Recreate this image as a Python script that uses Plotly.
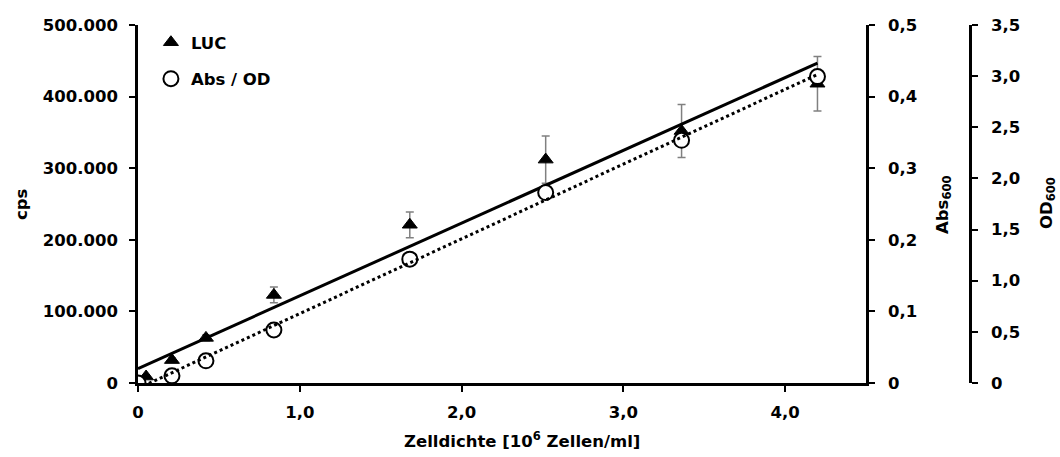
import numpy as np
import plotly.graph_objects as go

# Data
luc_x = [0.0, 0.05, 0.21, 0.42, 0.84, 1.68, 2.52, 3.36, 4.2]
luc_y = [0, 9000, 32000, 63000, 123000, 221000, 312000, 352000, 418000]
luc_err = [0, 2000, 3000, 4000, 11000, 18000, 33000, 37000, 38000]

abs_x = [0.0, 0.21, 0.42, 0.84, 1.68, 2.52, 3.36, 4.2]
abs_y = [0.0, 0.010, 0.031, 0.074, 0.173, 0.266, 0.339, 0.428]

x_ticks = [0, 1, 2, 3, 4]
x_ticktext = ["0", "1,0", "2,0", "3,0", "4,0"]
cps_ticks = [0, 100000, 200000, 300000, 400000, 500000]
cps_ticktext = ["0", "100.000", "200.000", "300.000", "400.000", "500.000"]
abs_ticks = [0, 0.1, 0.2, 0.3, 0.4, 0.5]
abs_ticktext = ["0", "0,1", "0,2", "0,3", "0,4", "0,5"]
od_ticks = [0, 0.5, 1.0, 1.5, 2.0, 2.5, 3.0, 3.5]
od_ticktext = ["0", "0,5", "1,0", "1,5", "2,0", "2,5", "3,0", "3,5"]

# Linear trendlines (least squares fits of the data)
luc_fit = np.polyfit(luc_x, luc_y, 1)
abs_fit = np.polyfit(abs_x, abs_y, 1)
fit_x = np.array([min(abs_x), max(abs_x)])

FONT = "DejaVu Sans"
FS = 16.5
tfont = dict(family=FONT, size=FS, color="black", weight="bold")

fig = go.Figure()

fig.add_trace(go.Scatter(
    x=luc_x, y=luc_y, mode="markers", name="LUC", legendgroup="a",
    marker=dict(symbol="triangle-up", size=13, color="black",
                line=dict(color="black", width=1)),
    error_y=dict(type="data", array=luc_err, visible=True, color="#808080",
                 thickness=1.5, width=4),
    yaxis="y",
))
fig.add_trace(go.Scatter(
    x=abs_x, y=abs_y, mode="markers", name="Abs / OD", legendgroup="b",
    marker=dict(symbol="circle", size=15, color="white",
                line=dict(color="black", width=2)),
    yaxis="y2",
))
fig.add_trace(go.Scatter(
    x=fit_x, y=np.polyval(luc_fit, fit_x), mode="lines", showlegend=False,
    line=dict(color="black", width=3), yaxis="y",
))
fig.add_trace(go.Scatter(
    x=fit_x, y=np.polyval(abs_fit, fit_x), mode="lines", showlegend=False,
    line=dict(color="black", width=3, dash="dot"), yaxis="y2",
))
fig.add_trace(go.Scatter(x=[None], y=[None], showlegend=False, yaxis="y3",
                         hoverinfo="skip"))

L, R, T, B = 138, 60, 25, 74
W, H = 1060, 457
pw = W - L - R
ph = H - T - B
xdom_end = (866 - L) / pw
od_pos = (970 - L) / pw


def px(xp):
    return (xp - L) / pw


def py(yp):
    return (H - B - yp) / ph


axis_common = dict(
    showline=True, linecolor="black", linewidth=2.5,
    ticks="outside", ticklen=6, tickwidth=2, tickcolor="black",
    showgrid=False, zeroline=False,
    tickfont=tfont,
    automargin=False,
)

fig.update_layout(
    width=W, height=H,
    margin=dict(l=L, r=R, t=T, b=B),
    plot_bgcolor="white", paper_bgcolor="white",
    font=dict(family=FONT, size=FS, color="black"),
    showlegend=True,
    legend=dict(x=0.015, y=1.0, xanchor="left", yanchor="top",
                bgcolor="rgba(0,0,0,0)", tracegroupgap=12,
                font=tfont, itemwidth=30),
    xaxis=dict(
        domain=[0, xdom_end], range=[0, 4.5],
        tickvals=x_ticks, ticktext=x_ticktext, ticklabelstandoff=6,
        **axis_common,
    ),
    yaxis=dict(
        range=[0, 500000], tickvals=cps_ticks, ticktext=cps_ticktext,
        ticklabelstandoff=8,
        **axis_common,
    ),
    yaxis2=dict(
        range=[0, 0.5], tickvals=abs_ticks, ticktext=abs_ticktext,
        overlaying="y", side="right", anchor="x", ticklabelstandoff=10,
        **axis_common,
    ),
    yaxis3=dict(
        range=[0, 3.5], tickvals=od_ticks, ticktext=od_ticktext,
        overlaying="y", side="right", anchor="free", position=od_pos,
        ticklabelstandoff=10,
        **axis_common,
    ),
    annotations=[
        dict(text="Zelldichte [10<sup>6</sup> Zellen/ml]", xref="paper",
             yref="paper", x=px(402), y=py(440), xanchor="left",
             yanchor="middle", showarrow=False, font=tfont),
        dict(text="cps", xref="paper", yref="paper", x=px(21), y=py(204),
             textangle=-90, xanchor="center", yanchor="middle",
             showarrow=False, font=tfont),
        dict(text="Abs<sub>600</sub>", xref="paper", yref="paper",
             x=px(943), y=py(205), textangle=-90, xanchor="center",
             yanchor="middle", showarrow=False, font=tfont),
        dict(text="OD<sub>600</sub>", xref="paper", yref="paper",
             x=px(1047), y=py(203), textangle=-90, xanchor="center",
             yanchor="middle", showarrow=False, font=tfont),
    ],
)

fig.write_html("out.html")
